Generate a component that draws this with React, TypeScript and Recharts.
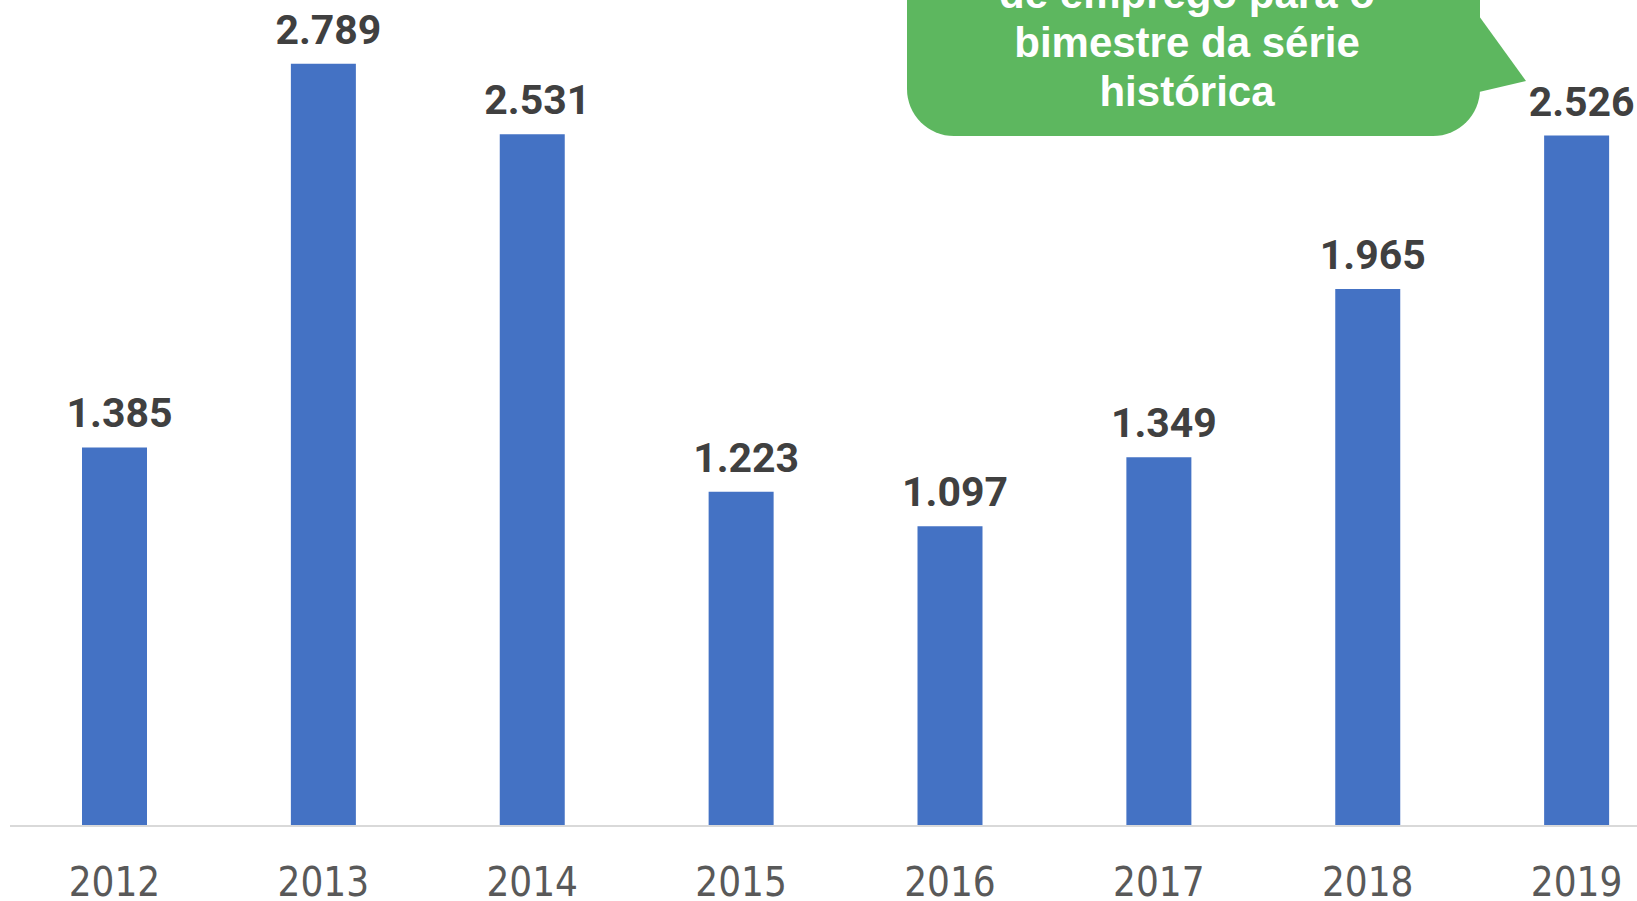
import React from 'react';
import { BarChart, Bar, XAxis, YAxis, LabelList } from 'recharts';

const years = ['2012', '2013', '2014', '2015', '2016', '2017', '2018', '2019'];
const saldo = [1385, 2789, 2531, 1223, 1097, 1349, 1965, 2526];
const calloutLines = ['de emprego para o', 'bimestre da série', 'histórica'];

const data = years.map((year, i) => ({ year, saldo: saldo[i] }));

const fmt = (v: number) => (v / 1000).toFixed(3);

const ValueLabel = (props: any) => {
  const { x, y, width, value } = props;
  return (
    <text
      x={x + width / 2 + 5}
      y={y - 20}
      textAnchor="middle"
      fill="#404040"
      fontFamily="Roboto, 'Open Sans', sans-serif"
      fontWeight={700}
      fontSize={41}
    >
      {fmt(value)}
    </text>
  );
};

const YearTick = (props: any) => {
  const { x, payload } = props;
  return (
    <text
      x={x}
      y={896}
      textAnchor="middle"
      fill="#595959"
      fontFamily="'Liberation Sans Narrow', 'DejaVu Sans Condensed', sans-serif"
      fontSize={40}
    >
      {payload.value}
    </text>
  );
};

const App: React.FC = () => {
  return (
    <div style={{ position: 'fixed', left: 0, top: 0, width: 1637, height: 901, overflow: 'hidden', background: '#fff' }}>
      <BarChart width={1681} height={901} data={data} margin={{ top: 6, right: 0, bottom: 0, left: 10 }}>
        <XAxis
          dataKey="year"
          axisLine={{ stroke: '#D9D9D9', strokeWidth: 2 }}
          tickLine={false}
          height={75}
          interval={0}
          tick={<YearTick />}
        />
        <YAxis hide domain={[0, 3000]} />
        <Bar dataKey="saldo" fill="#4472C4" barSize={65} isAnimationActive={false}>
          <LabelList dataKey="saldo" content={<ValueLabel />} />
        </Bar>
      </BarChart>

      {/* callout */}
      <svg width={1637} height={901} style={{ position: 'absolute', left: 0, top: 0, pointerEvents: 'none' }}>
        <rect x={907} y={-120} width={573} height={256} rx={47} ry={47} fill="#5DB75F" />
        <polygon points="1479,16 1526,81 1479,92" fill="#5DB75F" />
        {calloutLines.map((line, i) => (
          <text
            key={line}
            x={1187}
            y={8 + i * 49}
            textAnchor="middle"
            fill="#ffffff"
            fontFamily="'Liberation Sans', Arial, sans-serif"
            fontWeight={700}
            fontSize={42}
          >
            {line}
          </text>
        ))}
      </svg>
    </div>
  );
};

export default App;
